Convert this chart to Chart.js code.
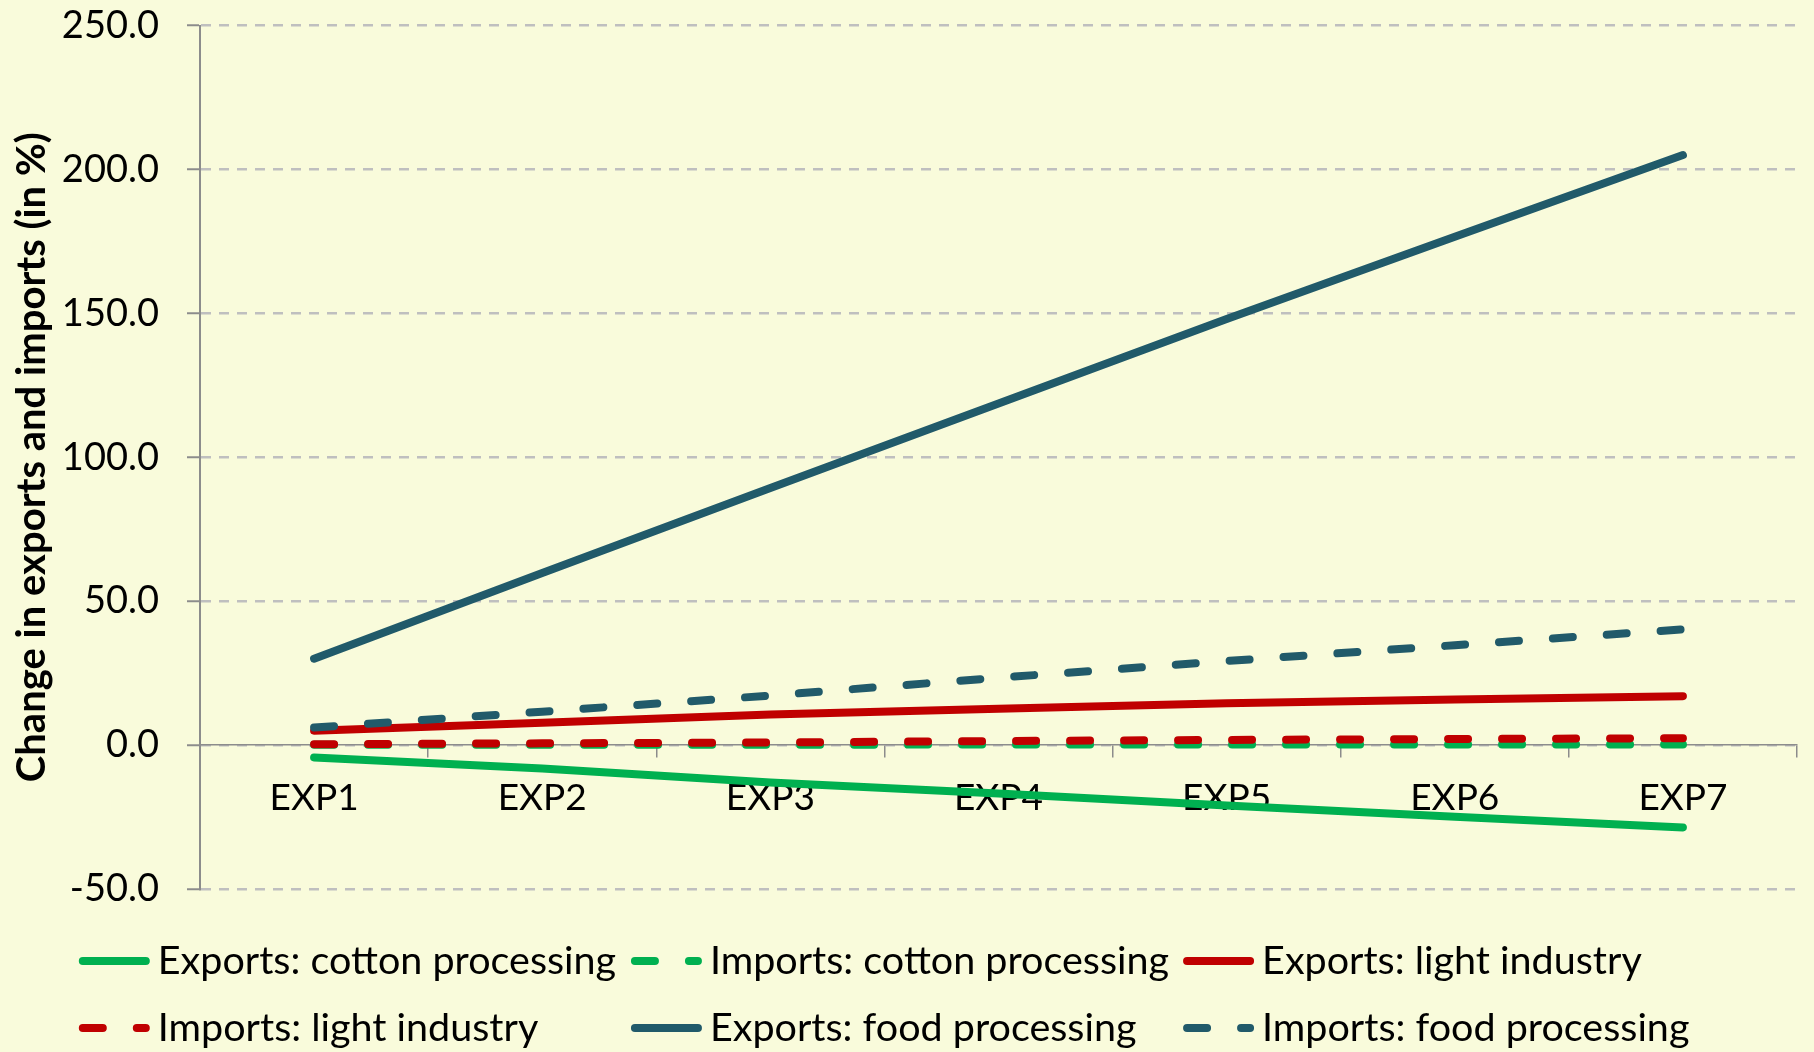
<!DOCTYPE html>
<html>
<head>
<meta charset="utf-8">
<script src="https://cdn.jsdelivr.net/npm/chart.js@4.4.1/dist/chart.umd.min.js"></script>
<style>
  html, body { margin: 0; padding: 0; background: #f9fbdb; }
  #wrap { width: 1814px; height: 1052px; position: relative; }
</style>
</head>
<body>
<div id="wrap"><canvas id="chart"></canvas></div>
<script>
// Scenario labels along the x axis
const categories = ['EXP1', 'EXP2', 'EXP3', 'EXP4', 'EXP5', 'EXP6', 'EXP7'];

// Change in exports and imports, percent
const cottonExports = [-4.3, -8.1, -13.0, -16.8, -21.0, -24.9, -28.6];
const cottonImports = [0.1, 0.1, 0.1, 0.2, 0.2, 0.2, 0.2];
const lightExports  = [5.0, 7.8, 10.6, 12.6, 14.5, 15.8, 17.0];
const lightImports  = [0.3, 0.6, 0.9, 1.4, 1.8, 2.1, 2.4];
const foodExports   = [30.0, 59.8, 89.3, 118.7, 148.0, 176.6, 205.0];
const foodImports   = [6.1, 11.6, 17.2, 23.4, 29.2, 34.7, 40.2];

// Value axis ticks
const yTicks = [-50, 0, 50, 100, 150, 200, 250];

const yTitle = 'Change in exports and imports (in %)';

const GREEN = '#00b050';
const RED = '#c00000';
const TEAL = '#215a6a';
const DASH = [20, 34];

function series(label, data, color, dashed, idx) {
  return {
    label: label,
    data: data,
    borderColor: color,
    backgroundColor: color,
    borderWidth: 8,
    borderDash: dashed ? DASH : [],
    borderCapStyle: 'round',
    borderJoinStyle: 'round',
    pointRadius: 0,
    pointHoverRadius: 0,
    tension: 0,
    fill: false,
    order: 10 - idx
  };
}

const datasets = [
  series('Exports: cotton processing', cottonExports, GREEN, false, 0),
  series('Imports: cotton processing', cottonImports, GREEN, true, 1),
  series('Exports: light industry', lightExports, RED, false, 2),
  series('Imports: light industry', lightImports, RED, true, 3),
  series('Exports: food processing', foodExports, TEAL, false, 4),
  series('Imports: food processing', foodImports, TEAL, true, 5)
];

// Rotated value-axis title, centred on the plot area
const axisTitle = {
  id: 'axisTitle',
  afterDraw(chart) {
    const ctx = chart.ctx;
    const area = chart.chartArea;
    ctx.save();
    ctx.translate(32, (area.top + area.bottom) / 2);
    ctx.rotate(-Math.PI / 2);
    ctx.font = 'bold 40px Lato';
    ctx.fillStyle = '#000';
    ctx.textAlign = 'center';
    ctx.textBaseline = 'middle';
    ctx.fillText(yTitle, 0, 0);
    ctx.restore();
  }
};

// Legend laid out as a three-column grid below the plot
const gridLegend = {
  id: 'gridLegend',
  afterDraw(chart) {
    const ctx = chart.ctx;
    const sets = chart.data.datasets;
    const fontSize = 39.5;
    const sample = 71;
    const gap = 8;
    const cols = 3;
    ctx.save();
    ctx.font = fontSize + 'px Lato';
    let maxText = 0;
    sets.forEach(ds => { maxText = Math.max(maxText, ctx.measureText(ds.label).width); });
    const colW = sample + gap + maxText + 14;
    const startX = (chart.width - cols * colW) / 2;
    const top = chart.chartArea.bottom + 72;
    const rowH = 67;
    sets.forEach((ds, i) => {
      const col = i % cols;
      const row = Math.floor(i / cols);
      const x = startX + col * colW;
      const y = top + row * rowH;
      ctx.beginPath();
      ctx.lineWidth = ds.borderWidth;
      ctx.strokeStyle = ds.borderColor;
      ctx.lineCap = 'round';
      ctx.setLineDash(ds.borderDash || []);
      ctx.moveTo(x + 4, y);
      ctx.lineTo(x + sample - 4, y);
      ctx.stroke();
      ctx.setLineDash([]);
      ctx.fillStyle = '#000';
      ctx.textAlign = 'left';
      ctx.textBaseline = 'middle';
      ctx.fillText(ds.label, x + sample + gap, y);
    });
    ctx.restore();
  }
};

Chart.defaults.font.family = 'Lato';
Chart.defaults.color = '#000';

new Chart(document.getElementById('chart'), {
  type: 'line',
  data: { labels: categories, datasets: datasets },
  options: {
    responsive: true,
    maintainAspectRatio: false,
    animation: false,
    devicePixelRatio: 1,
    layout: { padding: { top: 25.5, right: 17, bottom: 163, left: 0 } },
    plugins: {
      legend: { display: false },
      tooltip: { enabled: false }
    },
    scales: {
      x: {
        type: 'category',
        position: { y: 0 },
        offset: true,
        grid: {
          display: true,
          drawOnChartArea: false,
          drawTicks: true,
          offset: true,
          tickLength: 12,
          tickColor: '#8c8c8c',
          tickWidth: 1.5,
          lineWidth: 1.5
        },
        border: { display: true, color: '#8c8c8c', width: 1.5 },
        ticks: {
          font: { size: 37 },
          color: '#000',
          padding: 19,
          maxRotation: 0,
          autoSkip: false
        }
      },
      y: {
        min: yTicks[0],
        max: yTicks[yTicks.length - 1],
        afterFit(scale) {
          scale.width = 200;
          scale.paddingTop = 0;
          scale.paddingBottom = 0;
        },
        afterBuildTicks(scale) { scale.ticks = yTicks.map(v => ({ value: v })); },
        grid: {
          color: '#bfbfbf',
          lineWidth: 2.5,
          tickLength: 13,
          tickColor: '#8c8c8c',
          tickWidth: 2
        },
        border: { display: true, color: '#8c8c8c', width: 2, dash: [10, 8] },
        ticks: {
          font: { size: 38 },
          color: '#000',
          padding: 28,
          callback: v => Number(v).toFixed(1)
        },
        title: { display: false }
      }
    }
  },
  plugins: [axisTitle, gridLegend]
});
</script>
</body>
</html>
